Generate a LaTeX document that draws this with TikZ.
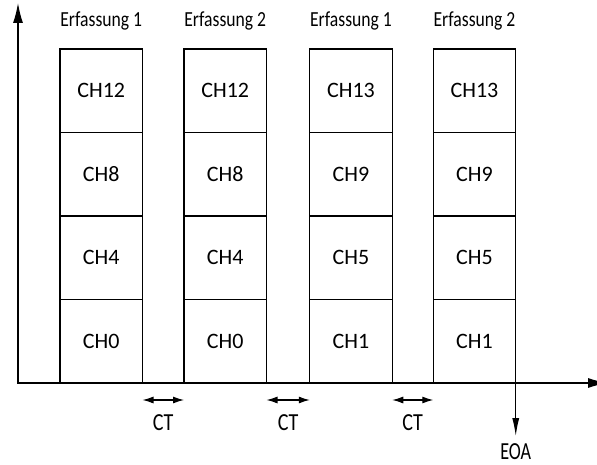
\documentclass[tikz,border=0pt]{standalone}
\usepackage{fontspec}
\setmainfont{Carlito}
\newfontfamily\condfont[FakeStretch=0.82]{Carlito}
\newfontfamily\narrowfont[FakeStretch=0.74]{Carlito}
\usepackage{tikz}
\usetikzlibrary{arrows.meta, positioning, calc}

\tikzset{
    chan/.style={draw, line width=1.1pt, minimum width=82.5pt, minimum height=83.5pt,
        inner sep=0pt, outer sep=0pt, font=\fontsize{22}{26}\selectfont},
    capt/.style={font=\condfont\fontsize{21.5}{25}\selectfont, inner sep=0pt},
    ctlabel/.style={font=\condfont\fontsize{24.5}{28}\selectfont, inner sep=0pt},
    axis/.style={line width=1.4pt, -{Latex[length=20pt, width=10pt]}},
    ctarrow/.style={line width=1.1pt, {Latex[length=11pt, width=7pt]}-{Latex[length=11pt, width=7pt]}},
}

\begin{document}
\begin{tikzpicture}[x=1pt, y=-1pt]
    \useasboundingbox (0,0) rectangle (597,465);
    % Axes
    \coordinate (O) at (18,383);
    \coordinate (Ytop) at (18,3);
    \coordinate (Xend) at (608,383);
%
    % Erfassung 1 (CH12 ... CH0)
    \node[chan] (a1) at (101.25,90.75) {CH12};
    \node[chan, below=0pt of a1] (a2) {CH8};
    \node[chan, below=0pt of a2] (a3) {CH4};
    \node[chan, below=0pt of a3] (a4) {CH0};
    \node[capt, above=19pt of a1] (ta) {Erfassung 1};
%
    % Erfassung 2 (CH12 ... CH0)
    \node[chan] (b1) at (225.25,90.75) {CH12};
    \node[chan, below=0pt of b1] (b2) {CH8};
    \node[chan, below=0pt of b2] (b3) {CH4};
    \node[chan, below=0pt of b3] (b4) {CH0};
    \node[capt, above=19pt of b1] (tb) {Erfassung 2};
%
    % Erfassung 1 (CH13 ... CH1)
    \node[chan] (c1) at (351,90.75) {CH13};
    \node[chan, below=0pt of c1] (c2) {CH9};
    \node[chan, below=0pt of c2] (c3) {CH5};
    \node[chan, below=0pt of c3] (c4) {CH1};
    \node[capt, above=19pt of c1] (tc) {Erfassung 1};
%
    % Erfassung 2 (CH13 ... CH1)
    \node[chan] (d1) at (474.5,90.75) {CH13};
    \node[chan, below=0pt of d1] (d2) {CH9};
    \node[chan, below=0pt of d2] (d3) {CH5};
    \node[chan, below=0pt of d3] (d4) {CH1};
    \node[capt, above=19pt of d1] (td) {Erfassung 2};
%
    \draw[axis] (O) -- (Ytop);
    \draw[axis] ([xshift=-1pt]O) -- (Xend);

    % Conversion time between the frames
    \coordinate (ct1l) at ([yshift=-17pt]a4.south east);
    \coordinate (ct1r) at ([yshift=-17pt]b4.south west);
    \coordinate (ct2l) at ([yshift=-17pt]b4.south east);
    \coordinate (ct2r) at ([yshift=-17pt]c4.south west);
    \coordinate (ct3l) at ([yshift=-17pt]c4.south east);
    \coordinate (ct3r) at ([yshift=-17pt]d4.south west);
    \draw[ctarrow] (ct1l) -- (ct1r);
    \draw[ctarrow] (ct2l) -- (ct2r);
    \draw[ctarrow] (ct3l) -- (ct3r);
    \coordinate (ct1m) at ($(ct1l)!0.5!(ct1r)$);
    \coordinate (ct2m) at ($(ct2l)!0.5!(ct2r)$);
    \coordinate (ct3m) at ($(ct3l)!0.5!(ct3r)$);
    \node[ctlabel, below=14pt of ct1m] (ct1) {CT};
    \node[ctlabel, below=14pt of ct2m] (ct2) {CT};
    \node[ctlabel, below=14pt of ct3m] (ct3) {CT};

    % End of acquisition
    \coordinate (eoaend) at ([yshift=-53pt]d4.south east);
    \draw[line width=1.1pt, -{Latex[length=18pt, width=7pt]}] (d4.south east) -- (eoaend);
    \node[ctlabel, font=\narrowfont\fontsize{24.5}{28}\selectfont, below=7pt of eoaend] (eoa) {EOA};
\end{tikzpicture}
\end{document}
